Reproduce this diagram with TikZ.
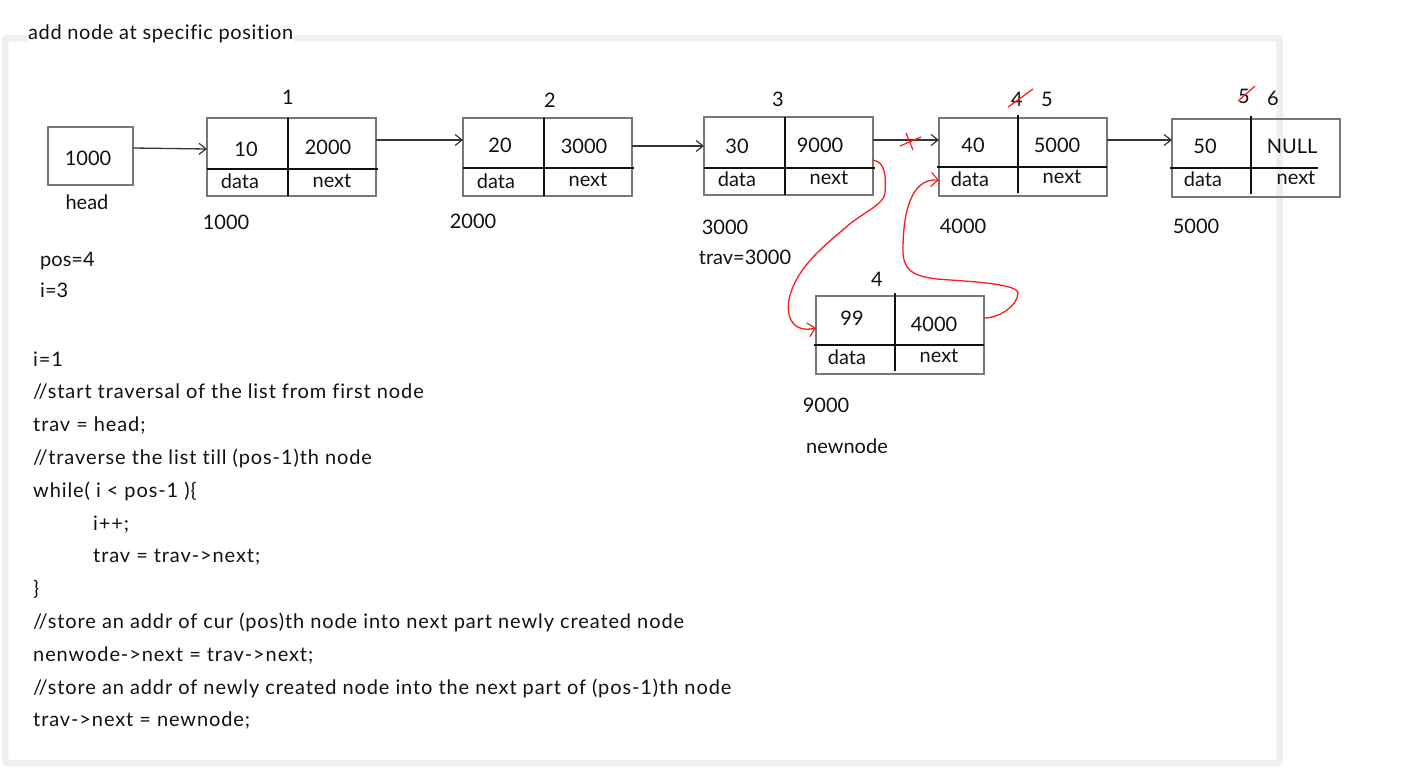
\documentclass[tikz,border=0pt]{standalone}
\usepackage{fontspec}
\setmainfont{Lato}[RawFeature={-liga}]
\newfontfamily\codefont{Lato}[RawFeature={-liga}, LetterSpace=4.5]
\newfontfamily\titlefont{Lato}[RawFeature={-liga}, LetterSpace=3]
\usetikzlibrary{arrows.meta}
\definecolor{framegray}{HTML}{EFEFEF}
\definecolor{boxgray}{HTML}{777777}
\definecolor{ink}{HTML}{111111}
\definecolor{pen}{HTML}{FF1A1A}
\begin{document}
\begin{tikzpicture}[x=1pt,y=-1pt,
  lbl/.style={font=\fontsize{20}{24}\selectfont, text=ink, inner sep=0pt, anchor=base},
  codeline/.style={lbl, anchor=base west, font=\codefont\fontsize{20}{24}\selectfont},
  cell/.style={draw=boxgray, line width=1.2pt, inner sep=0pt, outer sep=0pt,
    minimum width=169pt, minimum height=78pt},
  divider/.style={draw=ink, line width=1.4pt},
  link/.style={draw=ink!85, line width=1.3pt, -{Straight Barb[length=7pt,width=11pt,line width=1.2pt]}},
  redlink/.style={draw=pen, line width=1.3pt, -{Straight Barb[length=7pt,width=14pt,line width=1.2pt]}},
  strike/.style={draw=pen, line width=1.2pt}]
\useasboundingbox (0,0) rectangle (1422,769);

% panel frame
\draw[framegray, line width=6.5pt, rounded corners=2pt] (5,38) rectangle (1279.5,763);
\node[lbl, anchor=base west, font=\titlefont\fontsize{20}{24}\selectfont, fill=white,
  inner xsep=1pt, inner ysep=2pt] (title) at (27,39) {add node at specific position};

% head pointer
\node[cell, minimum width=85pt, minimum height=58pt] (head) at (90.5,156) {};
\node[lbl] (headval) at (88,165) {1000};
\node[lbl] (headname) at (87,209) {head};

% node 1
\node[cell] (n1) at (291.5,157) {};
\draw[divider] (288,118) -- (288,196);
\draw[divider] (207,169) -- (378,169);
\node[lbl] (n1pos) at (288,104) {1};
\node[lbl] (n1data) at (246,156) {10};
\node[lbl] (n1next) at (328,154) {2000};
\node[lbl] (n1dl) at (240,188) {data};
\node[lbl] (n1nl) at (332,187) {next};
\node[lbl] (n1addr) at (226,229) {1000};

% node 2
\node[cell] (n2) at (547.5,157) {};
\draw[divider] (544,118) -- (544,196);
\draw[divider] (463,168) -- (634,168);
\node[lbl] (n2pos) at (550,107) {2};
\node[lbl] (n2data) at (500,152) {20};
\node[lbl] (n2next) at (584,153) {3000};
\node[lbl] (n2dl) at (496,188) {data};
\node[lbl] (n2nl) at (588,186) {next};
\node[lbl] (n2addr) at (473,228) {2000};

% node 3
\node[cell] (n3) at (788.5,156) {};
\draw[divider] (785,117) -- (785,195);
\draw[divider] (704,168) -- (875,168);
\node[lbl] (n3pos) at (778,106) {3};
\node[lbl] (n3data) at (737,153) {30};
\node[lbl] (n3next) at (820,152) {9000};
\node[lbl] (n3dl) at (737,186) {data};
\node[lbl] (n3nl) at (829,184) {next};
\node[lbl] (n3addr) at (725,234) {3000};
\node[lbl] (trav) at (745,264) {trav=3000};

% node 4
\node[cell, minimum width=168pt] (n4) at (1023,157) {};
\draw[divider] (1018,115) -- (1018,193);
\draw[divider] (937,167) -- (1107,167);
\node[lbl] (n4old) at (1017,106) {4};
\draw[strike] (1008,107) -- (1033,89);
\node[lbl] (n4pos) at (1047,106) {5};
\node[lbl] (n4data) at (973,152) {40};
\node[lbl] (n4next) at (1057,152) {5000};
\node[lbl] (n4dl) at (970,186) {data};
\node[lbl] (n4nl) at (1062,183) {next};
\node[lbl] (n4addr) at (963,233) {4000};

% node 5
\node[cell, minimum width=168pt] (n5) at (1256,158) {};
\draw[divider] (1251,116) -- (1251,194);
\draw[divider] (1170,168) -- (1318,168);
\node[lbl] (n5old) at (1244,103) {5};
\draw[strike] (1238,101) -- (1255,86);
\node[lbl] (n5pos) at (1273,105) {6};
\node[lbl] (n5data) at (1205,153) {50};
\node[lbl] (n5next) at (1292,153) {NULL};
\node[lbl] (n5dl) at (1203,186) {data};
\node[lbl] (n5nl) at (1296,184) {next};
\node[lbl] (n5addr) at (1196,233) {5000};

% new node
\node[cell, minimum width=168pt] (nn) at (900,335) {};
\draw[divider] (895,293) -- (895,371);
\draw[divider] (814,345) -- (984,345);
\node[lbl] (nnpos) at (877,286) {4};
\node[lbl] (nndata) at (852,325) {99};
\node[lbl] (nnnext) at (934,331) {4000};
\node[lbl] (nndl) at (847,364) {data};
\node[lbl] (nnnl) at (939,362) {next};
\node[lbl] (nnaddr) at (826,412) {9000};
\node[lbl] (nnname) at (847,453) {newnode};

% list links
\draw[link] ([yshift=8pt]head.east) -- ([yshift=8pt]n1.west);
\draw[link] ([yshift=17pt]n1.east) -- ([yshift=17pt]n2.west);
\draw[link] ([yshift=11pt]n2.east) -- ([yshift=10pt]n3.west);
\draw[link] ([yshift=16pt]n3.east) -- ([yshift=17pt]n4.west);
\draw[link] ([yshift=17pt]n4.east) -- ([yshift=18pt]n5.west);

% old link cut
\draw[strike] (900,146) -- (921,137);
\draw[strike] (906,133) -- (913,150);

% relinking through the new node
\draw[redlink] ([yshift=-4pt]n3.east)
  .. controls (886,162) and (886,178) .. (885,193)
  .. controls (884,205) and (860,214) .. (845,228)
  .. controls (825,245) and (800,265) .. (791,292)
  .. controls (784,312) and (790,334) .. ([yshift=7pt]nn.west);
\draw[redlink] ([yshift=17pt]nn.east)
  .. controls (1000,318) and (1018,305) .. (1018,293)
  .. controls (1018,283) and (960,281) .. (937,279)
  .. controls (910,276) and (903,268) .. (903,250)
  .. controls (903,215) and (910,178) .. ([yshift=-23pt]n4.west);

% variables
\node[lbl, anchor=base west] (pos) at (40,266) {pos=4};
\node[lbl, anchor=base west] (icur) at (40,297) {i=3};

% code
\node[codeline] (c1) at (33,366) {i=1};
\node[codeline] (c2) at (33,398.8) {//start traversal of the list from first node};
\node[codeline] (c3) at (33,431.6) {trav = head;};
\node[codeline] (c4) at (33,464.4) {//traverse the list till (pos-1)th node};
\node[codeline] (c5) at (33,497.2) {while( i < pos-1 )\{};
\node[codeline] (c6) at (93,530) {i++;};
\node[codeline] (c7) at (93,562.8) {trav = trav->next;};
\node[codeline] (c8) at (33,595.6) {\}};
\node[codeline] (c9) at (33,628.4) {//store an addr of cur (pos)th node into next part newly created node};
\node[codeline] (c10) at (33,661.2) {nenwode->next = trav->next;};
\node[codeline] (c11) at (33,694) {//store an addr of newly created node into the next part of (pos-1)th node};
\node[codeline] (c12) at (33,726.8) {trav->next = newnode;};
\end{tikzpicture}
\end{document}
